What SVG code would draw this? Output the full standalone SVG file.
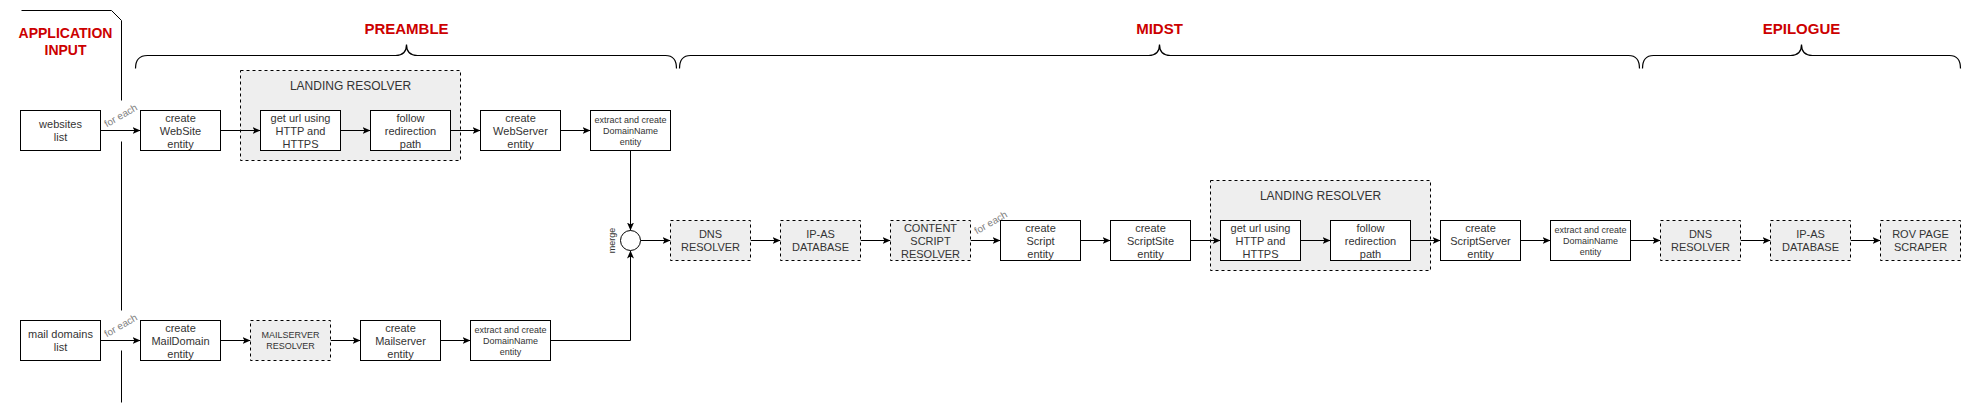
<svg xmlns="http://www.w3.org/2000/svg" width="1972" height="412" viewBox="0 0 1972 412">
<style>
.box{fill:#ffffff;stroke:#000000;stroke-width:1}
.dbox{fill:#eeeeee;stroke:#000000;stroke-width:1;stroke-dasharray:3 3}
.t{font-family:"Liberation Sans",Arial,Helvetica,sans-serif;fill:#333333;text-anchor:middle}
.f11{font-size:11px}
.f9{font-size:9px}
.f12{font-size:12px}
.sec{font-family:"Liberation Sans",Arial,Helvetica,sans-serif;font-weight:bold;font-size:15px;fill:#CC0000;text-anchor:middle}
.fe{font-family:"Liberation Sans",Arial,Helvetica,sans-serif;font-size:10px;fill:#808080;text-anchor:middle}
.edge{fill:none;stroke:#000000;stroke-width:1}
.arr{fill:none;stroke:#000000;stroke-width:1;marker-end:url(#ah)}
.brace{fill:none;stroke:#000000;stroke-width:1.2}
</style>
<defs>
<marker id="ah" viewBox="0 0 8 7" refX="8" refY="3.5" markerWidth="8" markerHeight="7" markerUnits="userSpaceOnUse" orient="auto">
<path d="M0,0 L8,3.5 L0,7 L2,3.5 Z" fill="#000000" stroke="none"/>
</marker>
</defs>
<rect x="0" y="0" width="1972" height="412" fill="#ffffff"/>
<g transform="translate(0.5,0.5)">

<g id="labels">
<text class="sec" x="65" y="37" font-size="14" style="font-size:14px">APPLICATION</text>
<text class="sec" x="65" y="54" style="font-size:14px">INPUT</text>
<text class="sec" x="406" y="33">PREAMBLE</text>
<text class="sec" x="1159" y="33">MIDST</text>
<text class="sec" x="1801" y="33">EPILOGUE</text>
</g>

<g id="braces">
<path class="edge" d="M21,10 L111,10 L121,20 L121,100 M121,141 L121,310 M121,350 L121,402"/>
<path class="brace" d="M135,68 Q135,55 147,55 L395,55 Q406,55 406,44 Q406,55 417,55 L665,55 Q676,55 676,68"/>
<path class="brace" d="M679,68 Q679,55 690,55 L1148,55 Q1159,55 1159,44 Q1159,55 1170,55 L1628,55 Q1639,55 1639,68"/>
<path class="brace" d="M1642,68 Q1642,55 1653,55 L1790,55 Q1801,55 1801,44 Q1801,55 1812,55 L1949,55 Q1960,55 1960,68"/>
</g>

<g id="lr1">
<rect class="dbox" x="240" y="70" width="220" height="90"/>
<text class="t f12" x="350" y="89">LANDING RESOLVER</text>
</g>
<g id="lr2">
<rect class="dbox" x="1210" y="180" width="220" height="90"/>
<text class="t f12" x="1320" y="199">LANDING RESOLVER</text>
</g>

<g id="connectors">
<path class="arr" d="M100,130 L140,130"/>
<path class="arr" d="M220,130 L260,130"/>
<path class="arr" d="M340,130 L370,130"/>
<path class="arr" d="M450,130 L480,130"/>
<path class="arr" d="M560,130 L590,130"/>
<path class="arr" d="M630,150 L630,230"/>
<path class="arr" d="M100,340 L140,340"/>
<path class="arr" d="M220,340 L250,340"/>
<path class="arr" d="M330,340 L360,340"/>
<path class="arr" d="M440,340 L470,340"/>
<path class="arr" d="M550,340 L630,340 L630,250"/>
<path class="arr" d="M640,240 L670,240"/>
<path class="arr" d="M750,240 L780,240"/>
<path class="arr" d="M860,240 L890,240"/>
<path class="arr" d="M970,240 L1000,240"/>
<path class="arr" d="M1080,240 L1110,240"/>
<path class="arr" d="M1190,240 L1220,240"/>
<path class="arr" d="M1300,240 L1330,240"/>
<path class="arr" d="M1410,240 L1440,240"/>
<path class="arr" d="M1520,240 L1550,240"/>
<path class="arr" d="M1630,240 L1660,240"/>
<path class="arr" d="M1740,240 L1770,240"/>
<path class="arr" d="M1850,240 L1880,240"/>
<text class="fe" transform="translate(122,118) rotate(-30)">for each</text>
<text class="fe" transform="translate(122,328) rotate(-30)">for each</text>
<text class="fe" transform="translate(992,225) rotate(-30)">for each</text>
<text class="t f9" transform="translate(614,240) rotate(-90)">merge</text>
</g>

<g id="n_websites">
<rect class="box" x="20" y="110" width="80" height="40"/>
<text class="t f11" x="60"><tspan x="60" y="127.5">websites</tspan><tspan x="60" y="140.5">list</tspan></text>
</g>
<g id="n_website">
<rect class="box" x="140" y="110" width="80" height="40"/>
<text class="t f11"><tspan x="180" y="121">create</tspan><tspan x="180" y="134">WebSite</tspan><tspan x="180" y="147">entity</tspan></text>
</g>
<g id="n_geturl1">
<rect class="box" x="260" y="110" width="80" height="40"/>
<text class="t f11"><tspan x="300" y="121">get url using</tspan><tspan x="300" y="134">HTTP and</tspan><tspan x="300" y="147">HTTPS</tspan></text>
</g>
<g id="n_follow1">
<rect class="box" x="370" y="110" width="80" height="40"/>
<text class="t f11"><tspan x="410" y="121">follow</tspan><tspan x="410" y="134">redirection</tspan><tspan x="410" y="147">path</tspan></text>
</g>
<g id="n_webserver">
<rect class="box" x="480" y="110" width="80" height="40"/>
<text class="t f11"><tspan x="520" y="121">create</tspan><tspan x="520" y="134">WebServer</tspan><tspan x="520" y="147">entity</tspan></text>
</g>
<g id="n_extract1">
<rect class="box" x="590" y="110" width="80" height="40"/>
<text class="t f9"><tspan x="630" y="122">extract and create</tspan><tspan x="630" y="133">DomainName</tspan><tspan x="630" y="144">entity</tspan></text>
</g>

<g id="n_mail">
<rect class="box" x="20" y="320" width="80" height="40"/>
<text class="t f11"><tspan x="60" y="337.5">mail domains</tspan><tspan x="60" y="350.5">list</tspan></text>
</g>
<g id="n_maildomain">
<rect class="box" x="140" y="320" width="80" height="40"/>
<text class="t f11"><tspan x="180" y="331">create</tspan><tspan x="180" y="344">MailDomain</tspan><tspan x="180" y="357">entity</tspan></text>
</g>
<g id="n_mailserverres">
<rect class="dbox" x="250" y="320" width="80" height="40"/>
<text class="t f9"><tspan x="290" y="337.5">MAILSERVER</tspan><tspan x="290" y="348.5">RESOLVER</tspan></text>
</g>
<g id="n_mailserver">
<rect class="box" x="360" y="320" width="80" height="40"/>
<text class="t f11"><tspan x="400" y="331">create</tspan><tspan x="400" y="344">Mailserver</tspan><tspan x="400" y="357">entity</tspan></text>
</g>
<g id="n_extract2">
<rect class="box" x="470" y="320" width="80" height="40"/>
<text class="t f9"><tspan x="510" y="332">extract and create</tspan><tspan x="510" y="343">DomainName</tspan><tspan x="510" y="354">entity</tspan></text>
</g>

<g id="n_merge">
<circle cx="630" cy="240" r="10" fill="#ffffff" stroke="#000000" stroke-width="1"/>
</g>
<g id="n_dns1">
<rect class="dbox" x="670" y="220" width="80" height="40"/>
<text class="t f11"><tspan x="710" y="237.5">DNS</tspan><tspan x="710" y="250.5">RESOLVER</tspan></text>
</g>
<g id="n_ipas1">
<rect class="dbox" x="780" y="220" width="80" height="40"/>
<text class="t f11"><tspan x="820" y="237.5">IP-AS</tspan><tspan x="820" y="250.5">DATABASE</tspan></text>
</g>
<g id="n_content">
<rect class="dbox" x="890" y="220" width="80" height="40"/>
<text class="t f11"><tspan x="930" y="231">CONTENT</tspan><tspan x="930" y="244">SCRIPT</tspan><tspan x="930" y="257">RESOLVER</tspan></text>
</g>
<g id="n_script">
<rect class="box" x="1000" y="220" width="80" height="40"/>
<text class="t f11"><tspan x="1040" y="231">create</tspan><tspan x="1040" y="244">Script</tspan><tspan x="1040" y="257">entity</tspan></text>
</g>
<g id="n_scriptsite">
<rect class="box" x="1110" y="220" width="80" height="40"/>
<text class="t f11"><tspan x="1150" y="231">create</tspan><tspan x="1150" y="244">ScriptSite</tspan><tspan x="1150" y="257">entity</tspan></text>
</g>
<g id="n_geturl2">
<rect class="box" x="1220" y="220" width="80" height="40"/>
<text class="t f11"><tspan x="1260" y="231">get url using</tspan><tspan x="1260" y="244">HTTP and</tspan><tspan x="1260" y="257">HTTPS</tspan></text>
</g>
<g id="n_follow2">
<rect class="box" x="1330" y="220" width="80" height="40"/>
<text class="t f11"><tspan x="1370" y="231">follow</tspan><tspan x="1370" y="244">redirection</tspan><tspan x="1370" y="257">path</tspan></text>
</g>
<g id="n_scriptserver">
<rect class="box" x="1440" y="220" width="80" height="40"/>
<text class="t f11"><tspan x="1480" y="231">create</tspan><tspan x="1480" y="244">ScriptServer</tspan><tspan x="1480" y="257">entity</tspan></text>
</g>
<g id="n_extract3">
<rect class="box" x="1550" y="220" width="80" height="40"/>
<text class="t f9"><tspan x="1590" y="232">extract and create</tspan><tspan x="1590" y="243">DomainName</tspan><tspan x="1590" y="254">entity</tspan></text>
</g>
<g id="n_dns2">
<rect class="dbox" x="1660" y="220" width="80" height="40"/>
<text class="t f11"><tspan x="1700" y="237.5">DNS</tspan><tspan x="1700" y="250.5">RESOLVER</tspan></text>
</g>
<g id="n_ipas2">
<rect class="dbox" x="1770" y="220" width="80" height="40"/>
<text class="t f11"><tspan x="1810" y="237.5">IP-AS</tspan><tspan x="1810" y="250.5">DATABASE</tspan></text>
</g>
<g id="n_rov">
<rect class="dbox" x="1880" y="220" width="80" height="40"/>
<text class="t f11"><tspan x="1920" y="237.5">ROV PAGE</tspan><tspan x="1920" y="250.5">SCRAPER</tspan></text>
</g>

</g>
</svg>
